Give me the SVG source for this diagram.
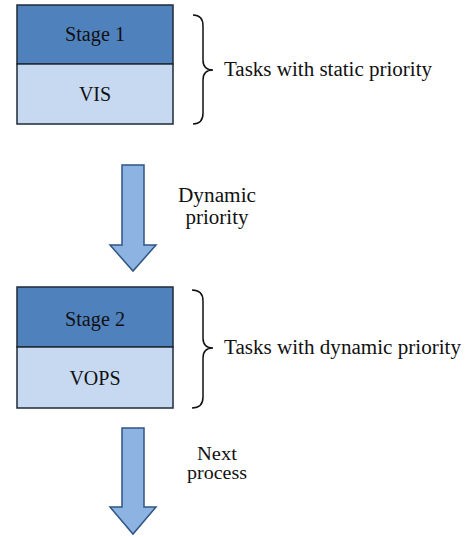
<svg xmlns="http://www.w3.org/2000/svg" width="468" height="537" viewBox="0 0 468 537">
  <style>
    .head { fill: #4f81bd; stroke: #1f2a36; stroke-width: 1.5; }
    .body { fill: #c6d9f1; stroke: #1f2a36; stroke-width: 1.5; }
    .lbl { font-family: "Liberation Serif", "DejaVu Serif", serif; font-size: 20px; fill: #111; text-anchor: middle; }
    .note { font-family: "Liberation Serif", "DejaVu Serif", serif; font-size: 20px; fill: #111; }
    .small { font-size: 18px; }
    .brace { fill: none; stroke: #111; stroke-width: 1.5; }
    .arrow { fill: #8db3e2; stroke: #2f5584; stroke-width: 1.5; stroke-linejoin: miter; }
  </style>
  <rect width="468" height="537" fill="#fff"/>

  <!-- Stage 1 block -->
  <g id="stage1">
    <rect class="head" x="17" y="5" width="156" height="59"/>
    <text class="lbl" x="95" y="41" textLength="60" lengthAdjust="spacingAndGlyphs">Stage 1</text>
  </g>
  <g id="vis">
    <rect class="body" x="17" y="64" width="156" height="60"/>
    <text class="lbl" x="95" y="101">VIS</text>
  </g>
  <g id="static-note">
    <path class="brace" d="M193,15 Q203,15 203,26 L203,60 Q203,70 213,70 Q203,70 203,80 L203,113 Q203,124 193,124"/>
    <text class="note" x="224" y="76" textLength="208" lengthAdjust="spacingAndGlyphs">Tasks with static priority</text>
  </g>

  <!-- Stage 2 block -->
  <g id="stage2">
    <rect class="head" x="17" y="287" width="156" height="60"/>
    <text class="lbl" x="95" y="326" textLength="60" lengthAdjust="spacingAndGlyphs">Stage 2</text>
  </g>
  <g id="vops">
    <rect class="body" x="17" y="347" width="156" height="61"/>
    <text class="lbl" x="95" y="385">VOPS</text>
  </g>
  <g id="dynamic-note">
    <path class="brace" d="M192,290 Q203,290 203,301 L203,338 Q203,348 213,348 Q203,348 203,358 L203,397 Q203,408 192,408"/>
    <text class="note" x="224" y="354" textLength="237" lengthAdjust="spacingAndGlyphs">Tasks with dynamic priority</text>
  </g>

  <!-- connectors -->
  <g id="connectors">
    <path class="arrow" d="M122,165 L144,165 L144,245 L156,245 L133,271 L110,245 L122,245 Z"/>
    <path class="arrow" d="M122,428 L144,428 L144,507 L156,507 L133,534 L110,507 L122,507 Z"/>
    <text class="note" x="217" y="202" text-anchor="middle" textLength="78" lengthAdjust="spacingAndGlyphs">Dynamic</text>
    <text class="note" x="217" y="224" text-anchor="middle" textLength="63" lengthAdjust="spacingAndGlyphs">priority</text>
    <text class="note small" x="217" y="460" text-anchor="middle" textLength="40" lengthAdjust="spacingAndGlyphs">Next</text>
    <text class="note small" x="217" y="479" text-anchor="middle" textLength="60" lengthAdjust="spacingAndGlyphs">process</text>
  </g>
</svg>
